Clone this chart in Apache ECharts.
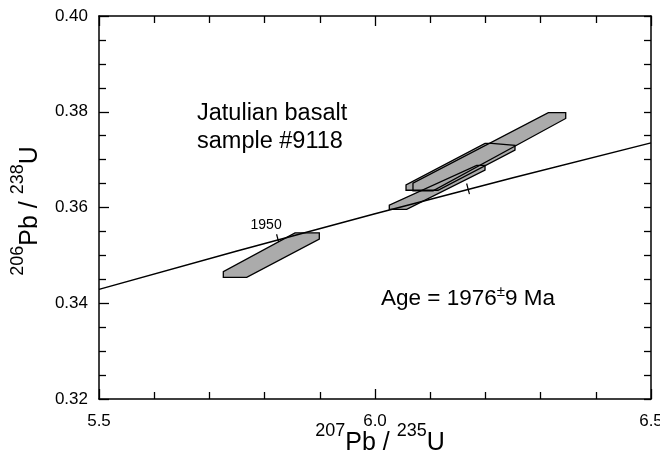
<!DOCTYPE html>
<html><head><meta charset="utf-8">
<script src="https://cdn.jsdelivr.net/npm/echarts/dist/echarts.min.js"></script>
<style>html,body{margin:0;padding:0;background:#fff}#c{width:660px;height:467px}</style>
</head><body><div id="c"></div>
<script>
// ---- data ----
const xTickLabels = [5.5, 6.0, 6.5];
const yTickLabels = [0.32, 0.34, 0.36, 0.38, 0.40];
// concordia curve (207Pb/235U, 206Pb/238U)
const concordiaX = [5.5, 5.75, 6.0, 6.25, 6.5];
const concordiaY = [0.3429, 0.3509, 0.3587, 0.3662, 0.3735];
// age marks on the concordia
const ageMarkX = [5.8245, 6.1688];
const ageMarkY = [0.3532, 0.3638];
const ageMarkLabels = ['1950', ''];
// error boxes (vertices)
const box1 = [[5.7252,0.3466],[5.7252,0.3454],[5.7676,0.3454],[5.8991,0.3534],[5.8991,0.3547],[5.8551,0.3547]];
const box2 = [[6.0259,0.3605],[6.0259,0.3596],[6.0574,0.3596],[6.1993,0.3678],[6.1993,0.3688],[6.1842,0.3688]];
const box3 = [[6.0562,0.3647],[6.0562,0.3636],[6.1141,0.3636],[6.2536,0.3720],[6.2536,0.3730],[6.2114,0.3734],[6.1993,0.3734]];
const box4 = [[6.0688,0.3651],[6.0688,0.3635],[6.1051,0.3635],[6.3455,0.3786],[6.3455,0.3798],[6.3140,0.3798]];
const boxes = [box2, box3, box4, box1];
const titleText = ['Jatulian basalt', 'sample #9118'];
const ageText = 'Age = 1976±9 Ma';

const FONT = '"Liberation Sans", Arial, Helvetica, sans-serif';
const chart = echarts.init(document.getElementById('c'), null, {renderer: 'canvas'});

function xAxisDef(pos, showLabel) {
  return {
    type: 'value', min: xTickLabels[0], max: xTickLabels[xTickLabels.length - 1],
    interval: xTickLabels[1] - xTickLabels[0], position: pos,
    axisLine: {show: true, onZero: false, lineStyle: {color: '#000', width: 1.5}},
    axisTick: {show: true, inside: true, length: 10, lineStyle: {color: '#000', width: 1.3}},
    minorTick: {show: true, splitNumber: 5, length: 7, lineStyle: {color: '#000', width: 1.3}},
    splitLine: {show: false}, minorSplitLine: {show: false},
    axisLabel: {show: showLabel, formatter: v => v.toFixed(1), fontSize: 17, color: '#000', fontFamily: FONT, margin: 14}
  };
}
function yAxisDef(pos, showLabel, majorLen) {
  return {
    type: 'value', min: yTickLabels[0], max: yTickLabels[yTickLabels.length - 1],
    interval: 0.02, position: pos,
    axisLine: {show: true, onZero: false, lineStyle: {color: '#000', width: 1.5}},
    axisTick: {show: true, inside: true, length: majorLen, lineStyle: {color: '#000', width: 1.3}},
    minorTick: {show: true, splitNumber: 4, length: 7, lineStyle: {color: '#000', width: 1.3}},
    splitLine: {show: false}, minorSplitLine: {show: false},
    axisLabel: {show: showLabel, formatter: v => v.toFixed(2), fontSize: 17, color: '#000', fontFamily: FONT, margin: 11}
  };
}

function boxSeries(fill) {
  return {
    type: 'custom', coordinateSystem: 'cartesian2d', xAxisIndex: 0, yAxisIndex: 0,
    silent: true, z: fill ? 2 : 3,
    data: boxes.map(b => b[0]), encode: {x: 0, y: 1},
    renderItem: (params, api) => {
      const pts = boxes[params.dataIndex].map(p => api.coord(p));
      return {
        type: 'polygon', shape: {points: pts},
        style: fill ? {fill: '#ababab', stroke: null, lineWidth: 0}
                    : {fill: 'none', stroke: '#000', lineWidth: 1.3}
      };
    }
  };
}

const supRich = {
  m: {fontSize: 25, fontFamily: FONT, lineHeight: 34, verticalAlign: 'bottom'},
  s: {fontSize: 18, fontFamily: FONT, lineHeight: 18, verticalAlign: 'top'}
};

const option = {
  animation: false,
  backgroundColor: '#fff',
  grid: {left: 99, right: 9, top: 16, bottom: 68, containLabel: false, outerBoundsMode: 'none'},
  xAxis: [xAxisDef('bottom', true), xAxisDef('top', false)],
  yAxis: [yAxisDef('left', true, 10), yAxisDef('right', false, 7)],
  series: [
    boxSeries(true),
    boxSeries(false),
    {
      type: 'line', xAxisIndex: 0, yAxisIndex: 0, z: 4, silent: true,
      data: concordiaX.map((x, i) => [x, concordiaY[i]]),
      showSymbol: false, symbol: 'none', smooth: false,
      lineStyle: {color: '#000', width: 1.5}
    },
    {
      type: 'custom', coordinateSystem: 'cartesian2d', xAxisIndex: 0, yAxisIndex: 0,
      silent: true, z: 5,
      data: ageMarkX.map((x, i) => [x, ageMarkY[i]]), encode: {x: 0, y: 1},
      renderItem: (params, api) => {
        const i = params.dataIndex;
        const p = api.coord([ageMarkX[i], ageMarkY[i]]);
        const a = api.coord([concordiaX[0], concordiaY[0]]);
        const b = api.coord([concordiaX[concordiaX.length - 1], concordiaY[concordiaY.length - 1]]);
        const dx = b[0] - a[0], dy = b[1] - a[1], L = Math.hypot(dx, dy);
        const nx = -dy / L, ny = dx / L;
        const up = 6, dn = i === 0 ? 2 : 5;
        const children = [{
          type: 'line',
          shape: {x1: p[0] - nx * up, y1: p[1] - ny * up, x2: p[0] + nx * dn, y2: p[1] + ny * dn},
          style: {stroke: '#000', lineWidth: 1.2}
        }];
        if (ageMarkLabels[i]) {
          children.push({
            type: 'text',
            style: {text: ageMarkLabels[i], x: p[0] - 12, y: p[1] - 15, fill: '#000',
                    font: '14px ' + FONT, align: 'center', verticalAlign: 'middle'}
          });
        }
        return {type: 'group', children};
      }
    }
  ],
  graphic: [
    {type: 'text', x: 197, y: 114, silent: true,
     style: {text: titleText[0], fill: '#000', font: '23.5px ' + FONT, align: 'left', verticalAlign: 'middle'}},
    {type: 'text', x: 197, y: 142, silent: true,
     style: {text: titleText[1], fill: '#000', font: '23.5px ' + FONT, align: 'left', verticalAlign: 'middle'}},
    {type: 'text', x: 381, y: 297, silent: true,
     style: {text: '{m|Age = 1976}{pm|±}{m|9 Ma}', fill: '#000', align: 'left', verticalAlign: 'middle',
             rich: {m: {fontSize: 22.5, fontFamily: FONT, lineHeight: 26, verticalAlign: 'bottom'},
                    pm: {fontSize: 15, fontFamily: FONT, lineHeight: 22, verticalAlign: 'top'}}}},
    {type: 'text', x: 380, y: 439, silent: true,
     style: {text: '{s|207}{m|Pb / }{s|235}{m|U}', fill: '#000', align: 'center', verticalAlign: 'middle',
             rich: supRich}},
    {type: 'text', x: 26, y: 211, rotation: Math.PI / 2, silent: true,
     style: {text: '{s|206}{m|Pb / }{s|238}{m|U}', fill: '#000', align: 'center', verticalAlign: 'middle',
             rich: supRich}}
  ]
};
chart.setOption(option);
</script>
</body></html>
